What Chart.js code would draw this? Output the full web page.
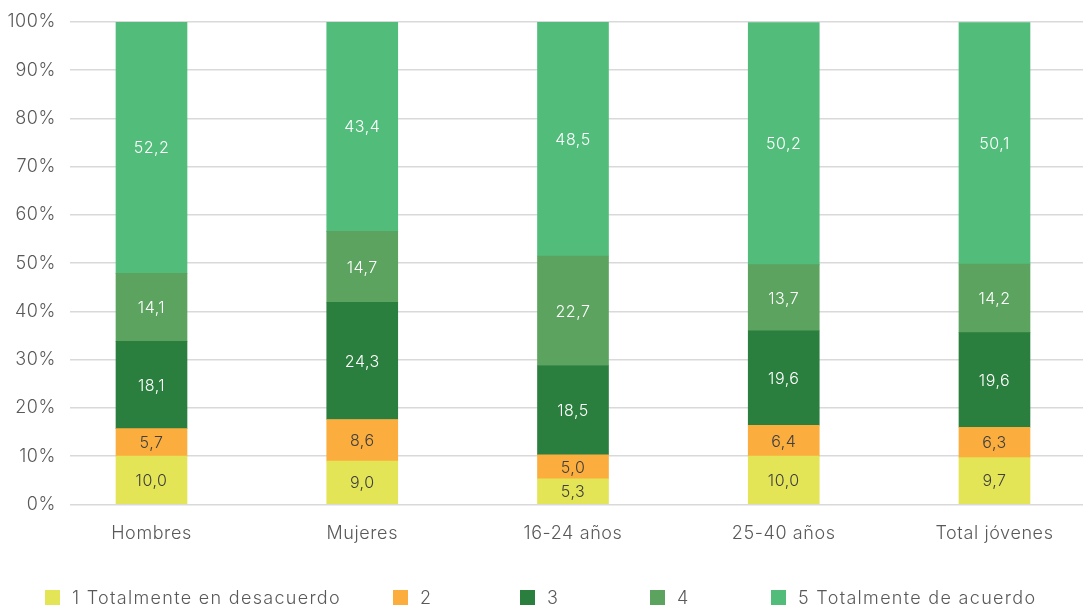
<!DOCTYPE html>
<html>
<head>
<meta charset="utf-8">
<script src="https://cdn.jsdelivr.net/npm/chart.js@4/dist/chart.umd.min.js"></script>
<style>
html,body{margin:0;padding:0;background:#fff;}
#wrap{width:1083px;height:607px;position:relative;}
#legend{position:absolute;left:0;top:586px;width:1083px;height:22px;
  font-family:Inter, Lato, sans-serif;font-weight:300;font-size:18px;color:#595959;letter-spacing:1.3px;}
#legend .item{position:absolute;top:0;display:flex;align-items:center;white-space:nowrap;height:22px;}
#legend .box{width:15px;height:15px;margin-right:12px;flex:none;}
</style>
</head>
<body>
<div id="wrap"><canvas id="c" width="1083" height="607"></canvas><div id="legend"></div></div>
<script>
const categories = ['Hombres', 'Mujeres', '16-24 años', '25-40 años', 'Total jóvenes'];
const seriesNames = ['1 Totalmente en desacuerdo', '2', '3', '4', '5 Totalmente de acuerdo'];
const s1 = [10.0, 9.0, 5.3, 10.0, 9.7];
const s2 = [5.7, 8.6, 5.0, 6.4, 6.3];
const s3 = [18.1, 24.3, 18.5, 19.6, 19.6];
const s4 = [14.1, 14.7, 22.7, 13.7, 14.2];
const s5 = [52.2, 43.4, 48.5, 50.2, 50.1];
const yTicks = [0, 10, 20, 30, 40, 50, 60, 70, 80, 90, 100];

// styling / layout
const colors = ['#e3e556', '#fbad3e', '#2b7f3e', '#5ba35e', '#52bd7b'];
const labelColors = ['#404040', '#404040', '#ffffff', '#ffffff', '#ffffff'];
const legendLeft = [45, 393, 520, 650, 771];
const FONT = 'Inter, Lato, sans-serif';

const seriesData = [s1, s2, s3, s4, s5];
const datasets = seriesData.map((arr, k) => ({
  label: seriesNames[k],
  data: arr.map((v, i) => ({x: i, y: v})),
  backgroundColor: colors[k],
  borderWidth: 0,
  barThickness: 71
}));

// HTML legend built from the series names and colours
const legendEl = document.getElementById('legend');
seriesNames.forEach((n, k) => {
  const it = document.createElement('div'); it.className = 'item'; it.style.left = legendLeft[k] + 'px';
  const b = document.createElement('span'); b.className = 'box'; b.style.background = colors[k];
  const t = document.createElement('span'); t.textContent = n;
  it.appendChild(b); it.appendChild(t); legendEl.appendChild(it);
});

const spacing = {
  id: 'spacing',
  beforeDraw(chart) { chart.ctx.letterSpacing = '0.6px'; }
};

const valueLabels = {
  id: 'valueLabels',
  afterDatasetsDraw(chart) {
    const ctx = chart.ctx;
    ctx.save();
    ctx.letterSpacing = '0.5px';
    ctx.font = '300 16px ' + FONT;
    ctx.textAlign = 'center';
    ctx.textBaseline = 'middle';
    chart.data.datasets.forEach((ds, k) => {
      const meta = chart.getDatasetMeta(k);
      meta.data.forEach((bar, i) => {
        const p = bar.getProps(['x', 'y', 'base'], true);
        const v = ds.data[i].y;
        ctx.fillStyle = labelColors[k];
        ctx.fillText(v.toFixed(1).replace('.', ','), p.x, (p.y + p.base) / 2 + 1);
      });
    });
    ctx.restore();
  }
};

new Chart(document.getElementById('c'), {
  type: 'bar',
  data: { datasets },
  plugins: [spacing, valueLabels],
  options: {
    responsive: false,
    animation: false,
    layout: { padding: { top: 22, right: 0, left: 0, bottom: 53 } },
    plugins: {
      tooltip: { enabled: false },
      legend: { display: false }
    },
    scales: {
      x: {
        type: 'linear',
        stacked: true,
        offset: false,
        min: -0.3867,
        max: 4.42,
        afterBuildTicks(scale) { scale.ticks = categories.map((_, i) => ({ value: i })); },
        ticks: {
          autoSkip: false,
          maxRotation: 0,
          padding: 10,
          color: '#595959',
          font: { family: FONT, size: 18, weight: '300' },
          callback: (v) => categories[v]
        },
        grid: { display: false },
        border: { display: false }
      },
      y: {
        stacked: true,
        min: 0,
        max: 100,
        afterBuildTicks(scale) { scale.ticks = yTicks.map(v => ({ value: v })); },
        afterFit(scale) { scale.width = 70; scale.paddingTop = 0; },
        ticks: {
          padding: 14,
          color: '#595959',
          font: { family: FONT, size: 18, weight: '300' },
          callback: (v) => v + '%'
        },
        grid: { color: '#d9d9d9', lineWidth: 1.5, drawTicks: false },
        border: { display: false }
      }
    }
  }
});
</script>
</body>
</html>
